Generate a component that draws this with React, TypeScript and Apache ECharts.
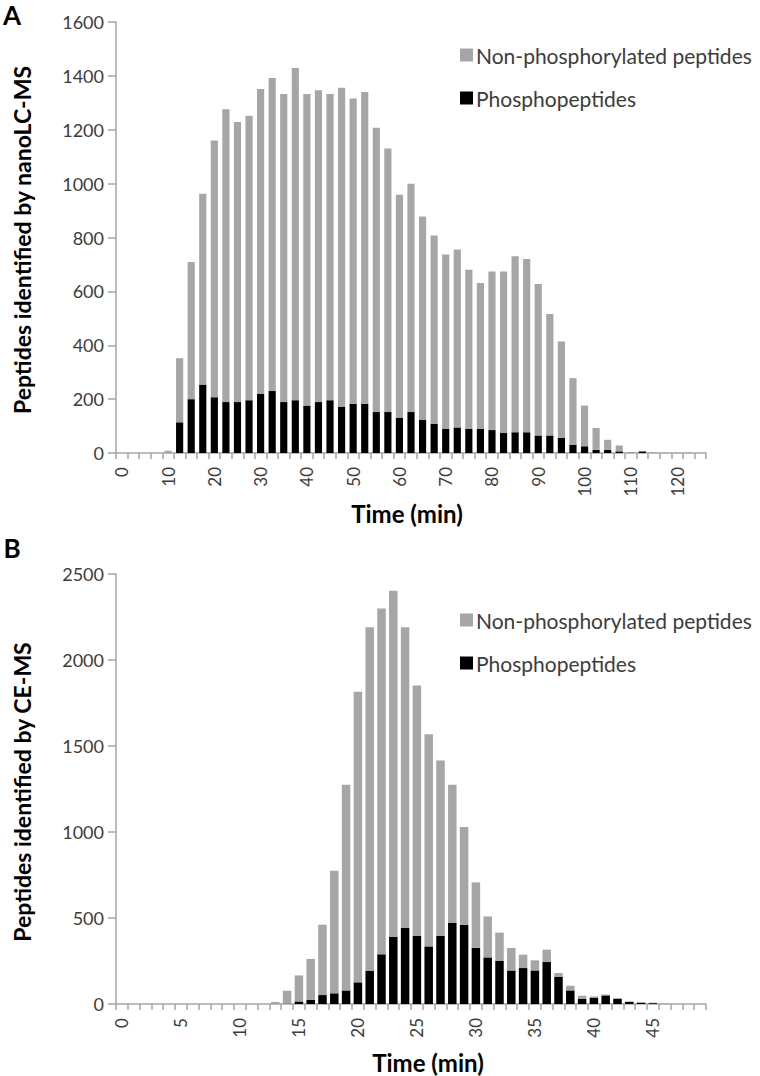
import React, { useEffect, useRef } from 'react';
import * as echarts from 'echarts';

// Panel A: nanoLC-MS, 2.5-min bins
const timeA = [0, 2.5, 5, 7.5, 10, 12.5, 15, 17.5, 20, 22.5, 25, 27.5, 30, 32.5, 35, 37.5, 40, 42.5, 45, 47.5, 50, 52.5, 55, 57.5, 60, 62.5, 65, 67.5, 70, 72.5, 75, 77.5, 80, 82.5, 85, 87.5, 90, 92.5, 95, 97.5, 100, 102.5, 105, 107.5, 110, 112.5, 115, 117.5, 120, 122.5, 125];
const phosphoA = [0, 0, 0, 0, 0, 114, 200, 254, 207, 189, 189, 196, 219, 230, 189, 196, 176, 189, 196, 171, 183, 183, 152, 152, 130, 152, 124, 108, 89, 95, 89, 89, 85, 74, 77, 77, 65, 65, 56, 31, 25, 12, 12, 6, 1, 6, 0, 0, 0, 0, 0];
const nonPhosphoA = [0, 0, 0, 0, 8, 238, 509, 708, 953, 1087, 1040, 1056, 1132, 1162, 1144, 1233, 1157, 1158, 1137, 1185, 1133, 1157, 1055, 978, 829, 848, 754, 699, 648, 660, 591, 542, 589, 600, 653, 643, 562, 451, 358, 247, 151, 81, 37, 22, 2, 2, 3, 2, 2, 2, 0];

// Panel B: CE-MS, 1-min bins
const timeB = [0, 1, 2, 3, 4, 5, 6, 7, 8, 9, 10, 11, 12, 13, 14, 15, 16, 17, 18, 19, 20, 21, 22, 23, 24, 25, 26, 27, 28, 29, 30, 31, 32, 33, 34, 35, 36, 37, 38, 39, 40, 41, 42, 43, 44, 45, 46, 47, 48, 49];
const phosphoB = [0, 0, 0, 0, 0, 0, 0, 0, 0, 0, 0, 0, 0, 0, 2, 15, 25, 52, 62, 79, 126, 194, 289, 390, 442, 397, 335, 397, 471, 461, 326, 271, 250, 195, 209, 195, 244, 157, 79, 29, 35, 50, 30, 12, 8, 5, 0, 0, 0, 0];
const nonPhosphoB = [0, 0, 0, 0, 0, 0, 0, 0, 0, 0, 0, 0, 0, 12, 75, 151, 237, 409, 713, 1196, 1690, 1996, 2011, 2013, 1748, 1455, 1233, 1018, 804, 568, 381, 238, 165, 131, 78, 59, 72, 23, 27, 19, 9, 5, 5, 3, 2, 3, 3, 0, 0, 0];

const yTicksA = { min: 0, max: 1600, interval: 200 };
const yTicksB = { min: 0, max: 2500, interval: 500 };

const NAME_NON = 'Non-phosphorylated peptides';
const NAME_PHOS = 'Phosphopeptides';

const GRAY = '#a6a6a6';
const AXIS = '#a6a6a6';
const TXT = '#3c3c3c';
const FONT = 'Lato';

export default function App() {
  const ref = useRef<HTMLDivElement>(null);
  useEffect(() => {
    const chart = echarts.init(ref.current!, null, { renderer: 'svg' });
    const xAxisCommon = (data: number[], labelInterval: number, gridIndex: number) => ({
      type: 'category',
      gridIndex,
      data: data.map(String),
      axisLine: { show: true, lineStyle: { color: AXIS, width: 1.5 } },
      axisTick: { show: true, interval: 0, length: 6, lineStyle: { color: AXIS, width: 1.5 } },
      axisLabel: { interval: labelInterval, rotate: 90, fontSize: 17, color: TXT, fontFamily: FONT, margin: 14 },
      splitLine: { show: false },
    });
    const yAxisCommon = (t: any, gridIndex: number) => ({
      type: 'value',
      gridIndex,
      min: t.min,
      max: t.max,
      interval: t.interval,
      axisLine: { show: true, lineStyle: { color: AXIS, width: 1.5 } },
      axisTick: { show: true, length: 8, lineStyle: { color: AXIS, width: 1.5 } },
      axisLabel: { fontSize: 18, color: TXT, fontFamily: FONT, margin: 12, formatter: (v: number) => String(v) },
      splitLine: { show: false },
    });
    const legendCommon = (top: number) => ({
      orient: 'vertical',
      left: 455,
      top,
      itemWidth: 13,
      itemHeight: 13,
      itemGap: 21,
      icon: 'rect',
      data: [NAME_NON, NAME_PHOS],
      textStyle: { fontSize: 21, color: TXT, fontFamily: FONT, lineHeight: 22, padding: [0, 0, 0, -2] },
    });
    chart.setOption({
      animation: false,
      backgroundColor: '#fff',
      grid: [
        { left: 116, top: 22, width: 590, height: 431, containLabel: false },
        { left: 116, top: 574, width: 590, height: 430, containLabel: false },
      ],
      xAxis: [xAxisCommon(timeA, 3, 0), xAxisCommon(timeB, 4, 1)],
      yAxis: [yAxisCommon(yTicksA, 0), yAxisCommon(yTicksB, 1)],
      legend: [
        { ...legendCommon(39) },
        { ...legendCommon(604) },
      ],
      series: [
        { name: NAME_PHOS, type: 'bar', stack: 'A', xAxisIndex: 0, yAxisIndex: 0, data: phosphoA, barCategoryGap: '38%', itemStyle: { color: '#000' } },
        { name: NAME_NON, type: 'bar', stack: 'A', xAxisIndex: 0, yAxisIndex: 0, data: nonPhosphoA, barCategoryGap: '38%', itemStyle: { color: GRAY } },
        { name: NAME_PHOS, type: 'bar', stack: 'B', xAxisIndex: 1, yAxisIndex: 1, data: phosphoB, barCategoryGap: '28%', itemStyle: { color: '#000' } },
        { name: NAME_NON, type: 'bar', stack: 'B', xAxisIndex: 1, yAxisIndex: 1, data: nonPhosphoB, barCategoryGap: '28%', itemStyle: { color: GRAY } },
      ],
      graphic: [
        { type: 'text', x: 12, y: 15, style: { text: 'A', font: `bold 26px ${FONT}`, fill: '#000', textAlign: 'center', textVerticalAlign: 'middle' } },
        { type: 'text', x: 12, y: 548, style: { text: 'B', font: `bold 26px ${FONT}`, fill: '#000', textAlign: 'center', textVerticalAlign: 'middle' } },
        { type: 'text', x: 22, y: 240, rotation: Math.PI / 2, style: { text: 'Peptides identified by nanoLC-MS', font: `bold 23px ${FONT}`, fill: '#000', textAlign: 'center', textVerticalAlign: 'middle' } },
        { type: 'text', x: 22, y: 792, rotation: Math.PI / 2, style: { text: 'Peptides identified by CE-MS', font: `bold 23px ${FONT}`, fill: '#000', textAlign: 'center', textVerticalAlign: 'middle' } },
        { type: 'text', x: 407, y: 513, style: { text: 'Time (min)', font: `bold 24px ${FONT}`, fill: '#000', textAlign: 'center', textVerticalAlign: 'middle' } },
        { type: 'text', x: 428, y: 1062, style: { text: 'Time (min)', font: `bold 24px ${FONT}`, fill: '#000', textAlign: 'center', textVerticalAlign: 'middle' } },
      ],
    });
    return () => chart.dispose();
  }, []);
  return <div ref={ref} style={{ position: 'fixed', left: 0, top: 0, width: 760, height: 1076, background: '#fff' }} />;
}
